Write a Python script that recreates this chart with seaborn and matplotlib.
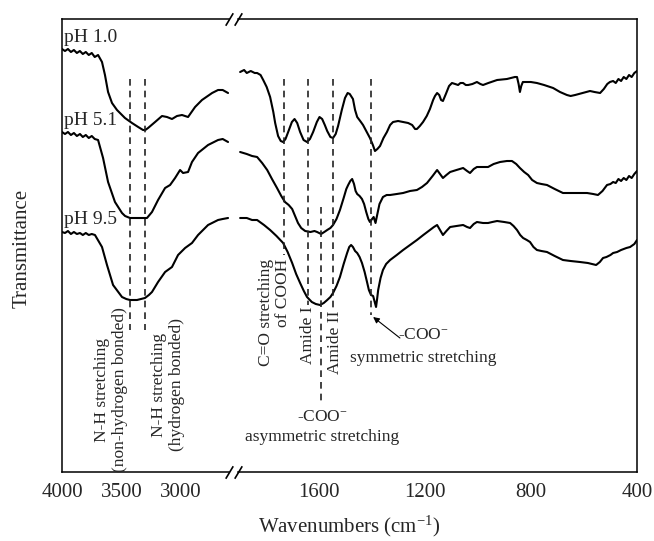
import numpy as np
import matplotlib
matplotlib.use("Agg")
import matplotlib.pyplot as plt
import seaborn as sns
from matplotlib.ticker import MultipleLocator, NullLocator

# FTIR spectra (wavenumber in cm-1, transmittance in arbitrary offset units)
wn_ph10 = [4000, 3975, 3950, 3925, 3900, 3875, 3850, 3825, 3800, 3775, 3750, 3725, 3697,
           3664, 3639, 3613, 3580, 3538, 3471, 3412, 3360, 3319, 3300, 3277, 3218, 3160,
           3118, 3076, 3034, 2992, 2941, 2882, 2824, 2739, 2689, 2650, 2605,
           1895, 1880, 1870, 1855, 1840, 1831, 1818, 1808, 1795, 1782, 1770, 1763, 1752,
           1742, 1733, 1724, 1714, 1700, 1690, 1680, 1669, 1656, 1643, 1632, 1620, 1606,
           1596, 1586, 1576, 1567, 1555, 1545, 1535, 1526, 1512, 1500, 1490, 1482, 1470,
           1462, 1454, 1440, 1432, 1420, 1406, 1395, 1387, 1378, 1368, 1355, 1342, 1330,
           1319, 1300, 1281, 1262, 1247, 1236, 1229, 1218, 1206, 1192, 1180, 1168, 1161,
           1153, 1145, 1138, 1131, 1120, 1108, 1097, 1085, 1074, 1065, 1055, 1045, 1036,
           1020, 1003, 990, 980, 960, 927, 890, 860, 852, 846, 841, 836, 830, 822, 800,
           777, 750, 716, 690, 664, 650, 633, 605, 577, 560, 539, 525, 512, 502, 490,
           480, 470, 460, 450, 440, 430, 420, 410, 400]
t_ph10 = [423, 421, 423, 420, 422, 419, 421, 418, 420, 417, 419, 415, 417,
          410, 397, 380, 369, 362, 354, 349, 345, 342, 342, 344, 350, 356,
          355, 353, 356, 357, 355, 365, 372, 379, 382, 382, 379,
          400, 402, 399, 401, 399, 399, 397, 392, 385, 375, 360, 349, 336,
          331, 330, 333, 340, 350, 353, 349, 340, 332, 330, 333, 340, 350,
          355, 353, 347, 341, 335, 334, 338, 346, 362, 374, 379, 378, 373,
          362, 355, 350, 347, 341, 334, 327, 321, 323, 326, 334, 340, 347,
          350, 351, 350, 349, 347, 343, 343, 346, 350, 356, 363, 372, 376,
          379, 377, 372, 371, 378, 386, 389, 388, 387, 389, 389, 387, 387,
          388, 390, 388, 387, 389, 392, 393, 395, 395, 388, 380, 386, 390, 390, 390,
          389, 387, 384, 380, 377, 376, 377, 379, 381, 380, 379, 383, 388, 390, 391,
          389, 393, 391, 395, 393, 397, 395, 399, 401]

wn_ph51 = [4000, 3975, 3950, 3925, 3900, 3875, 3849, 3825, 3800, 3775, 3750, 3725, 3697,
           3655, 3613, 3555, 3496, 3470, 3429, 3350, 3286, 3265, 3244, 3193, 3134, 3092,
           3050, 3008, 2983, 2941, 2908, 2857, 2773, 2689, 2650, 2605,
           1895, 1870, 1850, 1831, 1812, 1793, 1775, 1756, 1740, 1726, 1712, 1699, 1688,
           1677, 1665, 1650, 1630, 1615, 1605, 1590, 1578, 1567, 1555, 1545, 1532, 1519,
           1505, 1495, 1488, 1480, 1473, 1466, 1460, 1454, 1445, 1436, 1428, 1420, 1412,
           1406, 1398, 1392, 1385, 1378, 1370, 1357, 1343, 1330, 1305, 1281, 1255, 1229,
           1210, 1191, 1170, 1153, 1142, 1131, 1118, 1104, 1080, 1055, 1040, 1029, 1015,
           1003, 980, 961, 940, 916, 890, 871, 855, 841, 825, 810, 795, 777, 760, 739,
           710, 679, 650, 626, 605, 588, 565, 547, 530, 513, 500, 490, 480, 470, 460,
           450, 440, 430, 420, 410, 400]
t_ph51 = [340, 338, 340, 337, 339, 336, 338, 335, 337, 334, 336, 333, 332,
          314, 290, 270, 259, 256, 254, 254, 254, 257, 260, 272, 284, 287,
          294, 302, 299, 300, 310, 319, 327, 332, 333, 330,
          320, 318, 316, 315, 309, 302, 293, 284, 276, 270, 267, 263, 256,
          249, 244, 241, 240, 241, 240, 238, 240, 242, 244, 247, 253, 262,
          274, 283, 287, 291, 293, 288, 281, 278, 276, 273, 268, 260, 253,
          250, 253, 255, 249, 258, 268, 275, 277, 277, 278, 279, 281, 282,
          285, 289, 296, 302, 298, 294, 297, 300, 302, 304, 301, 299, 303,
          305, 305, 305, 308, 310, 311, 311, 308, 304, 300, 297, 292, 289, 288, 287,
          283, 279, 279, 279, 279, 279, 278, 277, 281, 287, 288, 290, 289, 293, 291,
          294, 292, 296, 294, 298, 301]

wn_ph95 = [4000, 3975, 3950, 3925, 3900, 3875, 3849, 3825, 3800, 3775, 3750, 3723,
           3664, 3622, 3571, 3496, 3460, 3429, 3370, 3303, 3270, 3244, 3193, 3134, 3076,
           3025, 2966, 2908, 2857, 2773, 2689, 2650, 2605,
           1895, 1870, 1850, 1831, 1805, 1782, 1758, 1733, 1716, 1699, 1684, 1669, 1655,
           1643, 1625, 1610, 1594, 1580, 1567, 1555, 1545, 1532, 1519, 1505, 1492, 1484,
           1477, 1470, 1462, 1454, 1445, 1436, 1426, 1417, 1410, 1402, 1394, 1388, 1383,
           1379, 1375, 1366, 1357, 1345, 1330, 1305, 1281, 1255, 1229, 1205, 1180, 1165,
           1153, 1142, 1131, 1118, 1104, 1080, 1055, 1040, 1029, 1015, 1003, 980, 961,
           945, 927, 900, 878, 865, 852, 840, 829, 815, 803, 790, 777, 760, 739, 710,
           679, 650, 615, 585, 554, 540, 528, 515, 500, 490, 475, 460, 450, 440, 426,
           410, 400]
t_ph95 = [240, 239, 241, 238, 240, 238, 239, 237, 239, 237, 238, 237,
          225, 207, 187, 175, 173, 172, 172, 174, 177, 180, 190, 200, 205,
          217, 224, 229, 237, 247, 252, 253, 254,
          254, 254, 252, 252, 247, 242, 236, 229, 220, 209, 198, 189, 181,
          175, 170, 168, 167, 169, 172, 175, 179, 186, 195, 208, 219, 225,
          227, 225, 221, 219, 215, 209, 200, 190, 182, 177, 176, 170, 165,
          173, 182, 194, 202, 208, 212, 217, 222, 227, 232, 237, 242, 245,
          247, 242, 237, 241, 245, 246, 247, 245, 244, 248, 250, 249, 249,
          250, 251, 250, 249, 246, 242, 237, 234, 232, 230, 225, 222, 221, 220, 216,
          212, 211, 210, 209, 207, 210, 214, 215, 217, 219, 220, 222, 223, 224, 225,
          228, 232]

series_labels = ["pH 1.0", "pH 5.1", "pH 9.5"]
label_y = [430, 347, 248]

# band markers: (wavenumber, top, bottom)
bands_high = [(3430, 393, 142), (3300, 393, 142)]
bands_low = [(1728, 393, 217), (1640, 393, 167), (1590, 265, 67),
             (1544, 393, 162), (1403, 393, 157)]

sns.set_style("white")
plt.rcParams["font.family"] = ["Liberation Serif", "DejaVu Serif"]
plt.rcParams["mathtext.fontset"] = "custom"
plt.rcParams["mathtext.rm"] = "Liberation Serif"
plt.rcParams["mathtext.it"] = "Liberation Serif:italic"

W, H = 654, 541
fig = plt.figure(figsize=(W / 100, H / 100), dpi=100)
bottom, top = 472, 19
ax1 = fig.add_axes([62 / W, 1 - bottom / H, (229 - 62) / W, (bottom - top) / H])
ax2 = fig.add_axes([238 / W, 1 - bottom / H, (637 - 238) / W, (bottom - top) / H], sharey=ax1)

for wn, t in [(wn_ph10, t_ph10), (wn_ph51, t_ph51), (wn_ph95, t_ph95)]:
    wn = np.array(wn)
    t = np.array(t)
    hi = wn > 2000
    sns.lineplot(x=wn[hi], y=t[hi], ax=ax1, color="black", lw=1.5, estimator=None, sort=False)
    sns.lineplot(x=wn[~hi], y=t[~hi], ax=ax2, color="black", lw=1.5, estimator=None, sort=False)

dash = (0, (4, 3))
for x, y0, y1 in bands_high:
    ax1.plot([x, x], [y0, y1], color="#222222", lw=1.2, ls=dash)
for x, y0, y1 in bands_low:
    ax2.plot([x, x], [y0, y1], color="#222222", lw=1.2, ls=dash)

ax1.set_xlim(4000, 2597)
ax2.set_xlim(1903, 400)
ax1.set_ylim(0, 453)

ax1.xaxis.set_major_locator(MultipleLocator(500))
ax1.xaxis.set_minor_locator(MultipleLocator(250))
ax2.xaxis.set_major_locator(MultipleLocator(400))
ax2.xaxis.set_minor_locator(MultipleLocator(200))

for ax in (ax1, ax2):
    ax.yaxis.set_major_locator(NullLocator())
    ax.set_xlabel("")
    ax.set_ylabel("")
    ax.tick_params(axis="x", which="major", direction="out", length=5, width=1,
                   labelsize=15, pad=3, color="black")
    ax.tick_params(axis="x", which="minor", direction="out", length=3, width=1, color="black")
    for s in ax.spines.values():
        s.set_color("black")
        s.set_linewidth(1.1)
ax1.spines["right"].set_visible(False)
ax2.spines["left"].set_visible(False)
ax2.tick_params(axis="y", left=False)

# break marks
kw = dict(marker=[(-0.6, -1), (0.6, 1)], markersize=9, linestyle="none",
          color="k", mec="k", mew=1.2, clip_on=False)
ax1.plot([1, 1], [0, 1], transform=ax1.transAxes, **kw)
ax2.plot([0, 0], [0, 1], transform=ax2.transAxes, **kw)

for lab, y in zip(series_labels, label_y):
    ax1.text(3985, y, lab, fontsize=14, ha="left", va="baseline")

fs = 12.5
ax1.text(3588, 165, "N-H stretching\n(non-hydrogen bonded)", rotation=90, fontsize=fs,
         ha="center", va="top", multialignment="center", linespacing=1.1)
ax1.text(3109, 154, "N-H stretching\n(hydrogen bonded)", rotation=90, fontsize=fs,
         ha="center", va="top", multialignment="center", linespacing=1.1)
ax2.text(1767, 213, "C=O stretching\nof COOH", rotation=90, fontsize=fs,
         ha="center", va="top", multialignment="right", linespacing=1.1)
ax2.text(1640, 166, "Amide I", rotation=90, fontsize=fs, ha="center", va="top")
ax2.text(1537, 161, "Amide II", rotation=90, fontsize=fs, ha="center", va="top")
ax2.text(1586, 55, r"-COO$^{-}$", fontsize=fs, ha="center", va="center")
ax2.text(1586, 35, "asymmetric stretching", fontsize=fs, ha="center", va="center")
ax2.text(1206, 137, r"-COO$^{-}$", fontsize=fs, ha="center", va="center")
ax2.text(1206, 114, "symmetric stretching", fontsize=fs, ha="center", va="center")
ax2.annotate("", xy=(1394, 155), xytext=(1293, 134),
             arrowprops=dict(arrowstyle="-|>", color="black", lw=0.8,
                             mutation_scale=9, shrinkA=0, shrinkB=0))

fig.text(349.5 / W, (H - 532) / H, r"Wavenumbers (cm$^{-1}$)", fontsize=15,
         ha="center", va="baseline")
fig.text(22 / W, 1 - 248 / H, "Transmittance", fontsize=15, rotation=90,
         ha="center", va="center")

fig.savefig("out.png", dpi=100, facecolor="white")
